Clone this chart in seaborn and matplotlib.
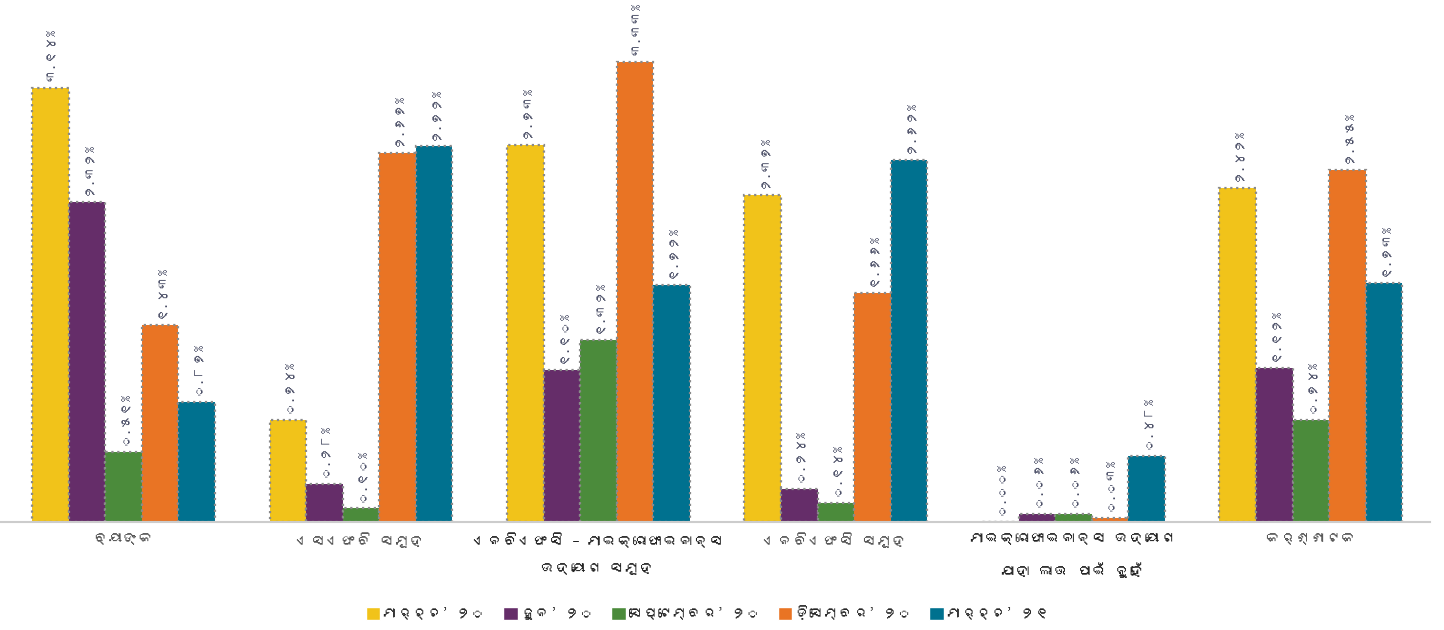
import matplotlib
matplotlib.use('Agg')
import matplotlib.pyplot as plt
import seaborn as sns
import pandas as pd
from matplotlib import font_manager as fm
from matplotlib.patches import Patch

# categories (Odia)
categories = [
    'ବ୍ୟାଙ୍କ',
    'ଏସଏଫବି ସମୂହ',
    'ଏନବିଏଫସି – ମାଇକ୍ରୋଫାଇନାନ୍ସ\nଉଦ୍ୟୋଗ ସମୂହ',
    'ଏନବିଏଫସି ସମୂହ',
    'ମାଇକ୍ରୋଫାଇନାନ୍ସ ଉଦ୍ୟୋଗ\nଯାହା ଲାଭ ପାଇଁ ନୁହେଁ',
    'କର୍ଣ୍ଣାଟକ',
]
periods = ['ମାର୍ଚ୍ଚ’ ୨୦', 'ଜୁନ’ ୨୦', 'ସେପ୍ଟେମ୍ବର’ ୨୦', 'ଡ଼ିସେମ୍ବର’ ୨୦', 'ମାର୍ଚ୍ଚ’ ୨୧']

mar20 = [3.14, 0.74, 2.73, 2.37, 0.00, 2.42]
jun20 = [2.32, 0.28, 1.10, 0.24, 0.06, 1.12]
sep20 = [0.51, 0.10, 1.32, 0.14, 0.06, 0.74]
dec20 = [1.43, 2.67, 3.33, 1.66, 0.03, 2.55]
mar21 = [0.87, 2.72, 1.72, 2.62, 0.48, 1.73]

colors = ['#F1C31A', '#652D69', '#4B8B3B', '#E97424', '#00718F']
odia_digits = str.maketrans('0123456789', '୦୧୨୩୪୫୬୭୮୯')


def find_odia_font():
    try:
        from fontTools.ttLib import TTFont
    except ImportError:
        return None
    for f in fm.fontManager.ttflist:
        if 'CJK' in f.name:
            continue
        try:
            cmap = TTFont(f.fname, fontNumber=0, lazy=True).getBestCmap()
        except Exception:
            continue
        if cmap and 0x0B15 in cmap:
            return f.name
    return None


sns.set_style('white')
odia = find_odia_font()
plt.rcParams['font.family'] = ([odia] if odia else []) + ['DejaVu Sans']

series = [mar20, jun20, sep20, dec20, mar21]
rows = []
for p, vals in zip(periods, series):
    for c, v in zip(categories, vals):
        rows.append({'cat': c, 'period': p, 'value': v})
df = pd.DataFrame(rows)

fig = plt.figure(figsize=(14.44, 6.3), dpi=100)
ax = fig.add_axes([0.0, 0.171, 0.99, 0.829])

sns.barplot(data=df, x='cat', y='value', hue='period', palette=colors,
            saturation=1, width=0.77, edgecolor='#8a8a8a', linestyle=':',
            linewidth=1.6, legend=False, ax=ax)

for cont, vals in zip(ax.containers, series):
    labels = [(f'{v:.2f}%').translate(odia_digits) for v in vals]
    ax.bar_label(cont, labels=labels, rotation=90, padding=5,
                 fontsize=9.5, color='#4a4e66')

ax.set_xlim(-0.52, 5.5)
ax.set_ylim(0, 3.78)
ax.set_xlabel('')
ax.set_ylabel('')
ax.set_yticks([])
ax.tick_params(axis='x', length=0, pad=7)
for lab in ax.get_xticklabels():
    lab.set_fontsize(11)
    lab.set_linespacing(2.3)
    lab.set_verticalalignment('top')
    lab.set_color('#222222' if '\n' in lab.get_text() else '#555555')
for s in ['top', 'right', 'left']:
    ax.spines[s].set_visible(False)
ax.spines['bottom'].set_color('#cccccc')
ax.spines['bottom'].set_linewidth(1.5)

handles = [Patch(facecolor=c, label=p) for c, p in zip(colors, periods)]
fig.legend(handles=handles, loc='lower center', bbox_to_anchor=(0.49, -0.005),
           ncol=5, frameon=False, fontsize=10.5, handlelength=1.0,
           handleheight=1.0, handletextpad=0.2, columnspacing=1.2)

fig.savefig('out.png', dpi=100)
